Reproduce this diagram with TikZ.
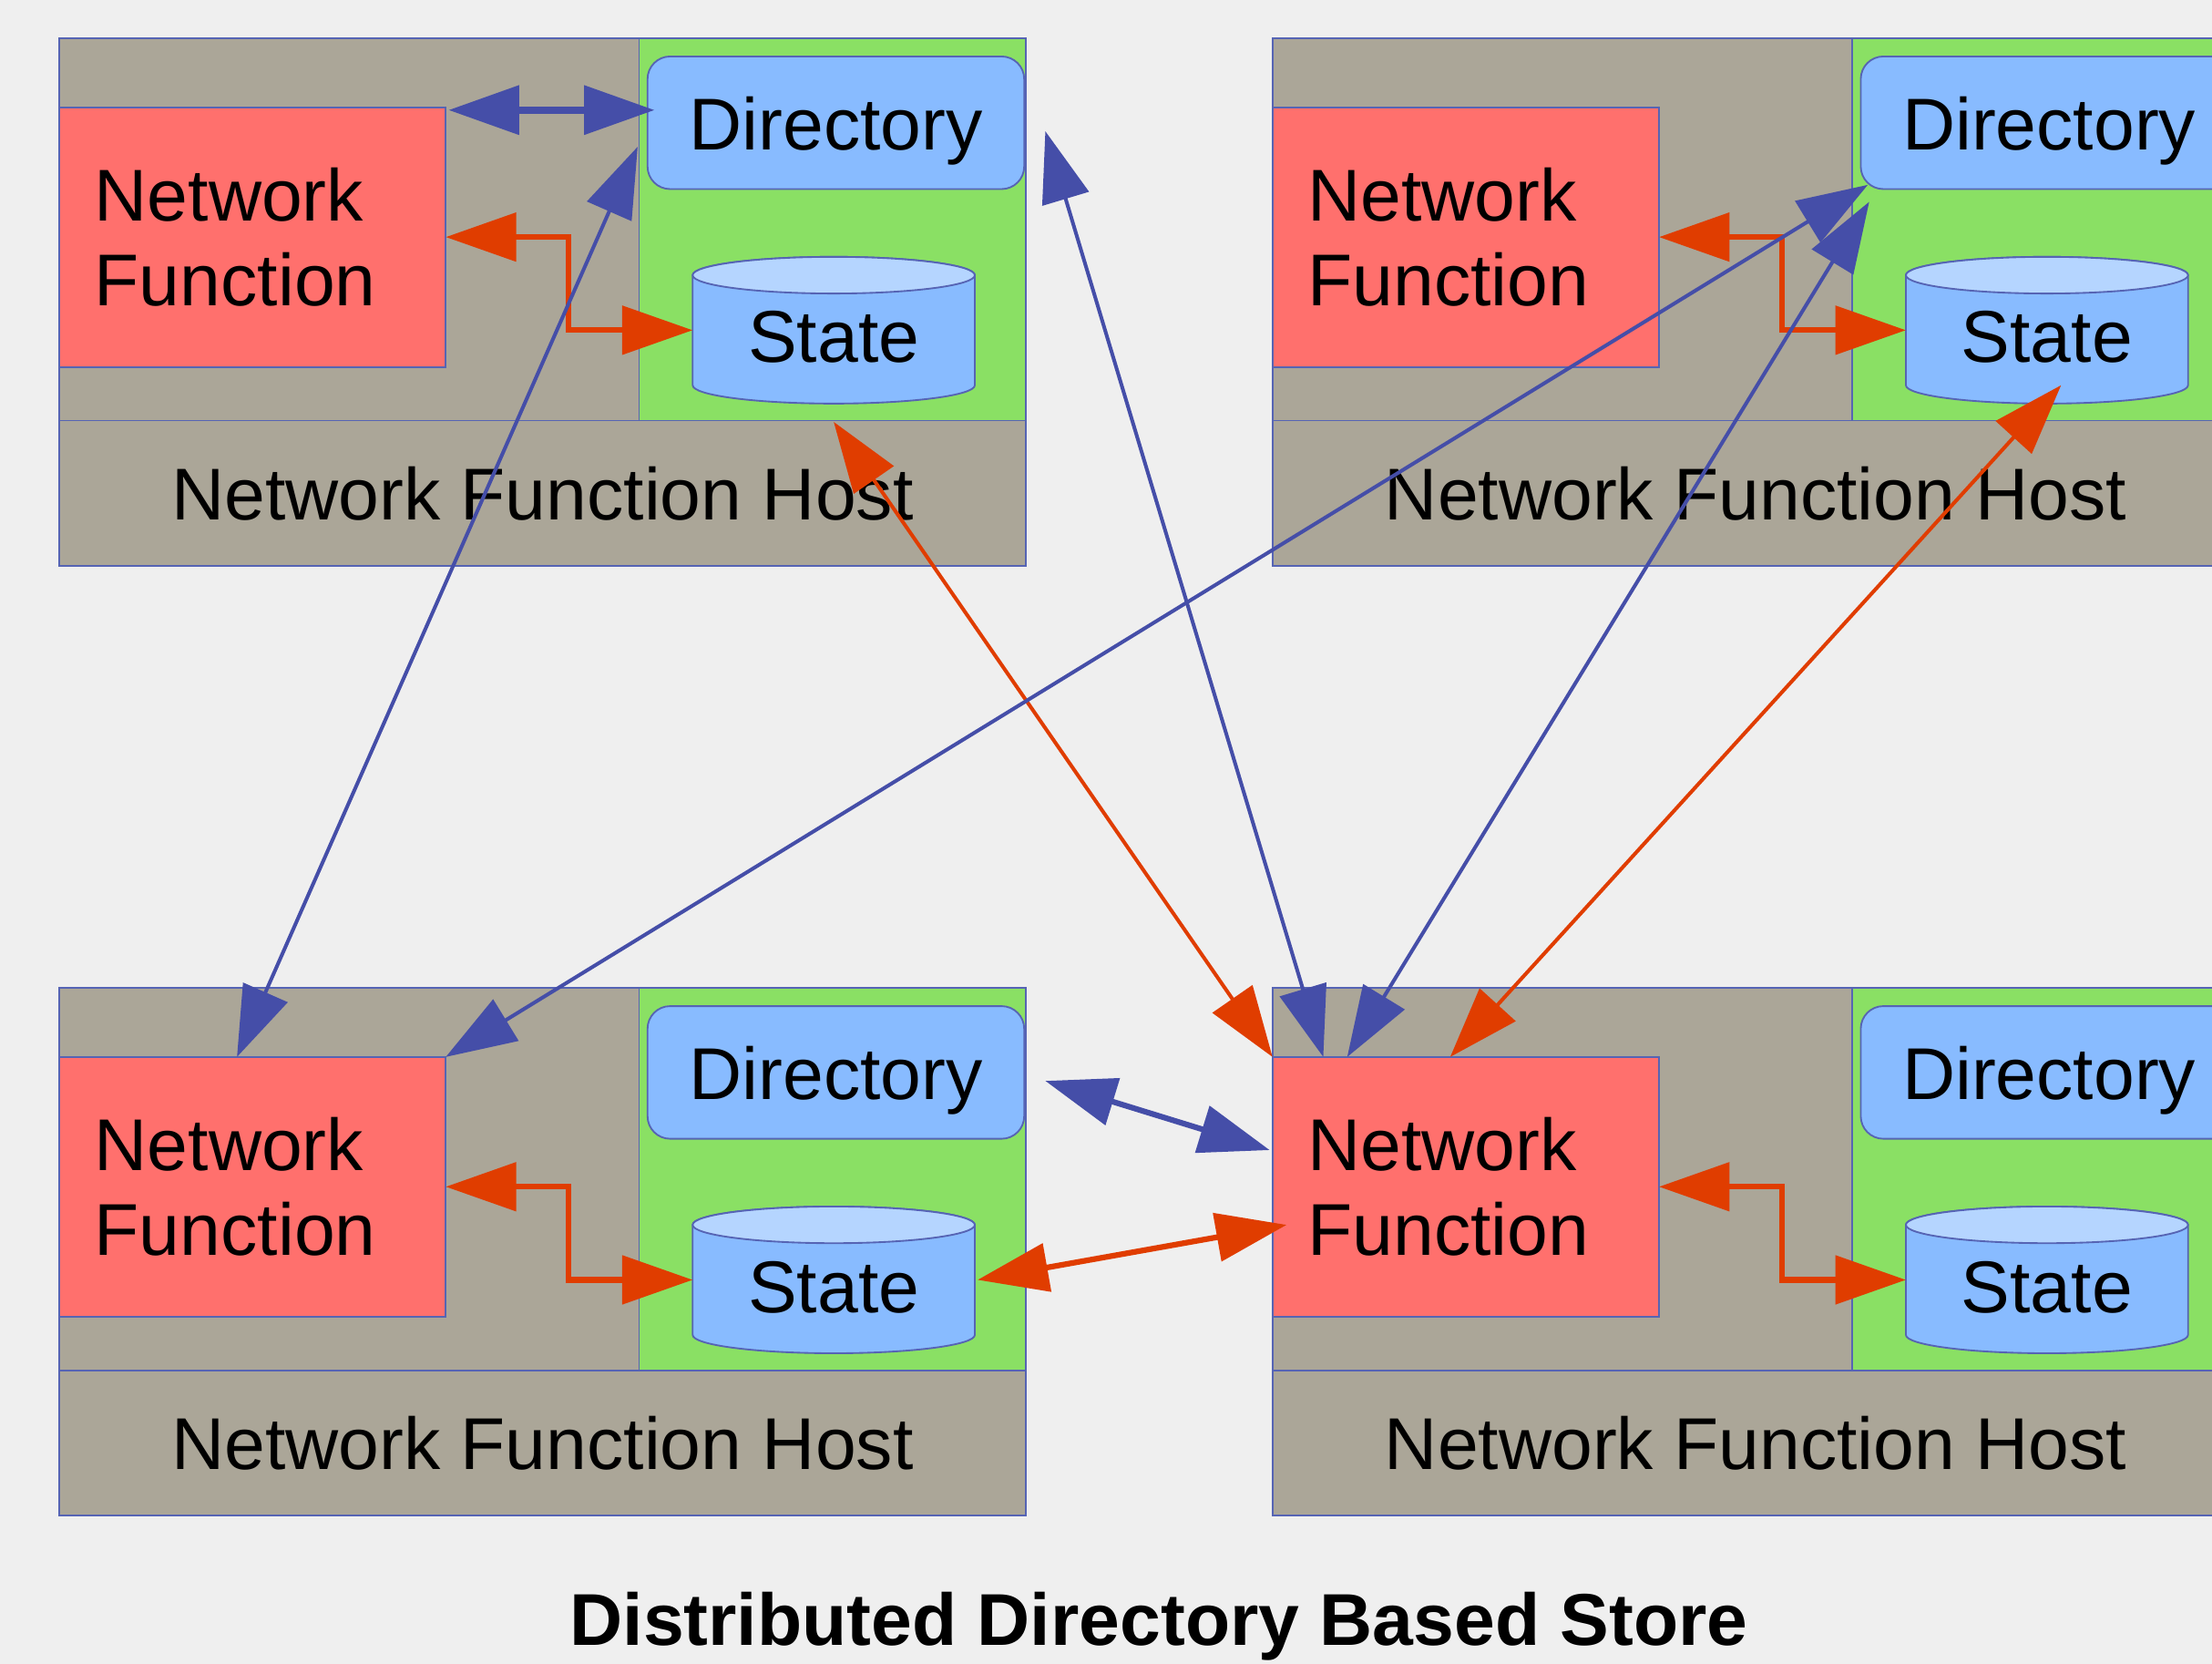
\documentclass[tikz,border=0pt]{standalone}
\usepackage{fontspec}
\setmainfont{Liberation Sans}
\usetikzlibrary{arrows.meta,calc}

\definecolor{bgc}{HTML}{EFEFEF}
\definecolor{hostgray}{HTML}{ABA698}
\definecolor{hostgreen}{HTML}{8AE064}
\definecolor{nfred}{HTML}{FF706D}
\definecolor{boxblue}{HTML}{88BBFF}
\definecolor{toplight}{HTML}{B5D5FF}
\definecolor{edgeblue}{HTML}{5664B4}
\definecolor{linkblue}{HTML}{454EA8}
\definecolor{linkorange}{HTML}{E03D00}

\tikzset{
  every node/.style={inner sep=0pt, outer sep=0pt},
  bigfont/.style={font=\fontsize{26}{30}\selectfont},
  hostpart/.style={fill=hostgray, draw=edgeblue, line width=0.6pt, minimum width=342.5pt},
  greenpart/.style={fill=hostgreen, draw=edgeblue, line width=0.6pt, minimum width=137pt, minimum height=135.5pt},
  bandtext/.style={bigfont, text height=19pt, text depth=0pt, minimum height=51.5pt},
  nfbox/.style={fill=nfred, draw=edgeblue, line width=0.6pt, minimum width=137pt,
    minimum height=92pt, text width=112pt, inner xsep=12.5pt, align=left, bigfont},
  dirbox/.style={fill=boxblue, draw=edgeblue, line width=0.6pt, rounded corners=8pt,
    minimum width=133.5pt, minimum height=47pt, bigfont, text height=19pt, text depth=0pt},
  stshape/.style={minimum width=100pt, minimum height=52pt},
  stlabel/.style={bigfont, text height=19pt, text depth=0pt},
  cylside/.style={draw=edgeblue, line width=0.6pt, fill=boxblue},
  cyltop/.style={draw=edgeblue, line width=0.6pt, fill=toplight},
  blink/.style={draw=linkblue, line width=1.3pt, {Triangle[length=25pt,width=17pt]}-{Triangle[length=25pt,width=17pt]}},
  olink/.style={draw=linkorange, line width=1.3pt, {Triangle[length=25pt,width=17pt]}-{Triangle[length=25pt,width=17pt]}},
}

% One network function host; #1 = id, (#2,#3) = offset in pixel units
\newcommand\nfhost[3]{%
  \begin{scope}[shift={(#2,#3)}]
    \node[hostpart, minimum height=135.5pt] (up#1) at (384.5,162.5) {};
    \node[hostpart, bandtext] (band#1) at (384.5,349.5) {Network Function Host};
    \node[greenpart] (green#1) at (590,162.5) {};
    \node[dirbox] (dir#1) at (592.5,87) {Directory};
    \node[nfbox] (nf#1) at (179,168) {Network\\Function};
    \path[cylside] (491,195) -- (491,273)
      arc[start angle=180, end angle=360, x radius=50pt, y radius=6.5pt]
      -- (691,195)
      arc[start angle=0, end angle=180, x radius=50pt, y radius=6.5pt] -- cycle;
    \path[cyltop] (591,195) ellipse[x radius=50pt, y radius=6.5pt];
    \node[stshape] (st#1) at (591,234) {};
    \node[stlabel] (stt#1) at (591,238) {State};
  \end{scope}}

\begin{document}
\begin{tikzpicture}[x=0.5pt, y=-0.5pt]
  \useasboundingbox (0,0) rectangle (1568,1179);
  \clip (0,0) rectangle (1568,1179);
  \fill[bgc] (0,0) rectangle (1568,1179);

  \nfhost{1}{0}{0}
  \nfhost{2}{860}{0}
  \nfhost{3}{0}{673}
  \nfhost{4}{860}{673}

  % links inside each host
  \draw[blink, line width=2.5pt] ($(nf1.north east)+(2,2)$) -- ($(dir1.west)+(5,-9)$);
  \foreach \h in {1,2,3,4}{
    \draw[olink, line width=2pt] (nf\h.east) -- ++(87,0) |- (st\h.west);
  }

  % links between hosts
  \draw[blink] ($(dir1.west)+(-7,17)$) -- ($(nf3.north)+(-11,0)$);
  \draw[olink] ($(st1.south)+(0,13)$) -- (nf4.north west);
  \draw[blink] ($(dir1.east)+(15,6)$) -- ($(nf4.north west)+(36,0)$);
  \draw[blink] ($(dir2.south west)+(5,-3)$) -- (nf3.north east);
  \draw[blink] ($(dir2.south west)+(6,9)$) -- ($(nf4.north west)+(53,0)$);
  \draw[olink] ($(st2.south)+(10,-13)$) -- ($(nf4.north west)+(126,0)$);
  \draw[blink, line width=2pt] ($(dir3.east)+(15,6)$) -- ($(nf4.west)+(-2,-26)$);
  \draw[olink, line width=2pt] ($(st3.east)+(2,0)$) -- ($(nf4.west)+(10,27)$);

  \node[font=\fontsize{26}{30}\selectfont\bfseries, anchor=base] (caption) at (821.5,1166)
    {Distributed Directory Based Store};
\end{tikzpicture}
\end{document}
